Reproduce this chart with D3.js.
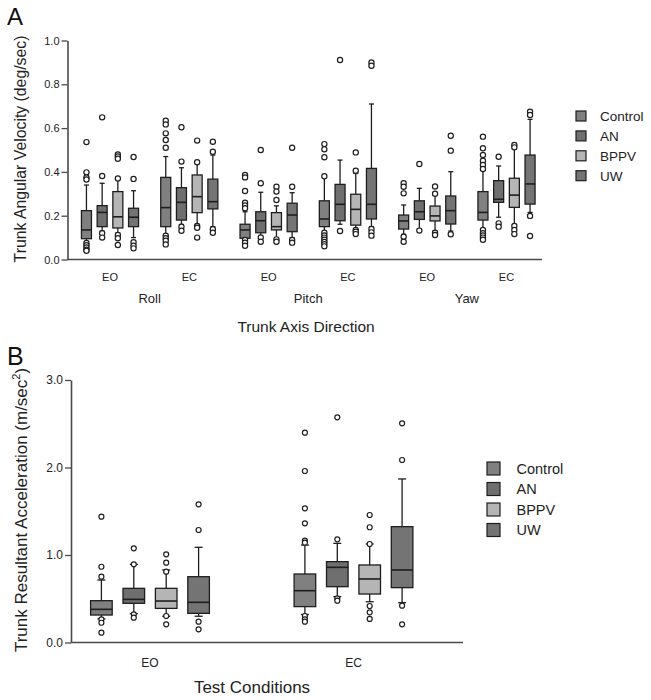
<!DOCTYPE html>
<html>
<head>
<meta charset="utf-8">
<script src="https://cdn.jsdelivr.net/npm/d3@7"></script>
<style>
  html, body { margin: 0; padding: 0; background: #fff; }
  svg { display: block; font-family: "Liberation Sans", Arial, Helvetica, sans-serif; }
</style>
</head>
<body>
<svg id="chart" width="651" height="700"></svg>
<script>
// ---------- DATA ----------
const seriesNames = ["Control", "AN", "BPPV", "UW"];
const seriesColors = ["#808080", "#6f6f6f", "#b5b5b5", "#747474"];

// Panel A
const groupsA = ["Roll EO", "Roll EC", "Pitch EO", "Pitch EC", "Yaw EO", "Yaw EC"];
const conditionLabelsA = ["EO", "EC", "EO", "EC", "EO", "EC"];
const directionsA = ["Roll", "Pitch", "Yaw"];
const ticksA = [0, 0.2, 0.4, 0.6, 0.8, 1.0];

// [whiskerLow, q1, median, q3, whiskerHigh] per group
const controlA = [
  [0.08, 0.095, 0.135, 0.223, 0.34],
  [0.115, 0.15, 0.237, 0.375, 0.47],
  [0.095, 0.097, 0.135, 0.161, 0.218],
  [0.125, 0.15, 0.185, 0.268, 0.378],
  [0.115, 0.139, 0.176, 0.203, 0.249],
  [0.14, 0.18, 0.215, 0.31, 0.409]
];
const anA = [
  [0.13, 0.15, 0.215, 0.246, 0.348],
  [0.16, 0.18, 0.261, 0.328, 0.419],
  [0.11, 0.122, 0.177, 0.218, 0.307],
  [0.161, 0.177, 0.252, 0.343, 0.454],
  [0.14, 0.183, 0.218, 0.268, 0.325],
  [0.193, 0.261, 0.275, 0.36, 0.427]
];
const bppvA = [
  [0.12, 0.144, 0.195, 0.31, 0.37],
  [0.16, 0.214, 0.287, 0.386, 0.447],
  [0.10, 0.135, 0.15, 0.214, 0.245],
  [0.14, 0.157, 0.229, 0.298, 0.393],
  [0.13, 0.176, 0.199, 0.244, 0.305],
  [0.16, 0.238, 0.294, 0.371, 0.503]
];
const uwA = [
  [0.10, 0.15, 0.193, 0.234, 0.314],
  [0.15, 0.231, 0.264, 0.367, 0.477],
  [0.10, 0.127, 0.203, 0.257, 0.305],
  [0.15, 0.185, 0.252, 0.416, 0.71],
  [0.13, 0.162, 0.223, 0.29, 0.401],
  [0.215, 0.253, 0.345, 0.477, 0.64]
];
const controlOutA = [
  [0.536, 0.398, 0.375, 0.365, 0.075, 0.065, 0.055, 0.045, 0.04],
  [0.634, 0.617, 0.576, 0.546, 0.51, 0.109, 0.097, 0.086, 0.069],
  [0.386, 0.375, 0.313, 0.259, 0.247, 0.234, 0.089, 0.077, 0.063],
  [0.527, 0.503, 0.467, 0.38, 0.122, 0.11, 0.1, 0.09, 0.08, 0.07, 0.06],
  [0.348, 0.332, 0.302, 0.104, 0.081],
  [0.561, 0.508, 0.477, 0.451, 0.432, 0.413, 0.135, 0.12, 0.11, 0.1, 0.09]
];
const anOutA = [
  [0.649, 0.381, 0.12, 0.10],
  [0.604, 0.447, 0.15, 0.131],
  [0.5, 0.348, 0.10, 0.081],
  [0.911, 0.13],
  [0.436, 0.132],
  [0.469, 0.165, 0.15]
];
const bppvOutA = [
  [0.48, 0.47, 0.46, 0.37, 0.112, 0.097, 0.066],
  [0.543, 0.444, 0.153, 0.145, 0.10],
  [0.332, 0.31, 0.272, 0.092, 0.081],
  [0.489, 0.405, 0.135, 0.127, 0.116],
  [0.333, 0.30, 0.122, 0.112],
  [0.523, 0.512, 0.153, 0.135, 0.116]
];
const uwOutA = [
  [0.468, 0.368, 0.079, 0.063, 0.051],
  [0.538, 0.492, 0.138, 0.122],
  [0.51, 0.332, 0.089, 0.077],
  [0.90, 0.885, 0.139, 0.124, 0.109],
  [0.565, 0.497, 0.115],
  [0.675, 0.66, 0.199, 0.107]
];

// Panel B
const groupsB = ["EO", "EC"];
const ticksB = [0, 1, 2, 3];
const controlB = [
  [0.27, 0.314, 0.379, 0.478, 0.714],
  [0.32, 0.41, 0.592, 0.783, 1.114]
];
const anB = [
  [0.33, 0.448, 0.493, 0.619, 0.893],
  [0.524, 0.638, 0.859, 0.924, 1.133]
];
const bppvB = [
  [0.30, 0.39, 0.474, 0.619, 0.829],
  [0.466, 0.554, 0.726, 0.886, 1.126]
];
const uwB = [
  [0.30, 0.333, 0.459, 0.752, 1.088],
  [0.455, 0.627, 0.829, 1.324, 1.869]
];
const controlOutB = [
  [1.438, 0.866, 0.752, 0.265, 0.226, 0.112],
  [2.398, 1.96, 1.533, 1.362, 1.164, 1.141, 0.303, 0.265, 0.238]
];
const anOutB = [
  [1.076, 0.893, 0.322, 0.284],
  [2.573, 1.179, 0.505, 0.478]
];
const bppvOutB = [
  [1.008, 0.912, 0.81, 0.303, 0.208],
  [1.457, 1.317, 1.126, 0.417, 0.345, 0.269]
];
const uwOutB = [
  [1.579, 1.286, 0.238, 0.151],
  [2.505, 2.086, 0.421, 0.208]
];

// ---------- DRAWING ----------
const svg = d3.select("#chart");
const ink = "#1e1e1e";
const axisColor = "#4a4a4a";

function panel(cfg) {
  const g = svg.append("g");
  const y = d3.scaleLinear().domain(cfg.yDomain).range([cfg.y0, cfg.y1]);
  const x = d3.scalePoint().domain(cfg.groups).range(cfg.xRange);
  const off = d3.scalePoint().domain(seriesNames).range([-1.5 * cfg.step, 1.5 * cfg.step]);

  // y axis
  const yAxis = d3.axisLeft(y).tickValues(cfg.ticks).tickSize(6).tickSizeOuter(0)
    .tickFormat(d3.format(".1f"));
  const ya = g.append("g").attr("transform", `translate(${cfg.axisX},0)`).call(yAxis);
  ya.select(".domain").attr("stroke", axisColor).attr("stroke-width", 1.6);
  ya.selectAll(".tick line").attr("stroke", axisColor).attr("stroke-width", 1.3);
  ya.selectAll(".tick text").attr("font-size", cfg.tickFont).attr("fill", "#222")
    .attr("font-family", "Liberation Sans, Arial, sans-serif").attr("x", -8);

  // x axis line
  g.append("line").attr("x1", cfg.axisX).attr("x2", cfg.axisEnd)
    .attr("y1", y(0)).attr("y2", y(0)).attr("stroke", axisColor).attr("stroke-width", 1.6);

  cfg.series.forEach((stats, si) => {
    const name = seriesNames[si];
    stats.forEach((s, gi) => {
      const cx = x(cfg.groups[gi]) + off(name);
      const bw = cfg.boxW;
      const [lo, q1, med, q3, hi] = s;
      // whiskers
      g.append("line").attr("x1", cx).attr("x2", cx).attr("y1", y(q3)).attr("y2", y(hi))
        .attr("stroke", ink).attr("stroke-width", 1.3);
      g.append("line").attr("x1", cx).attr("x2", cx).attr("y1", y(q1)).attr("y2", y(lo))
        .attr("stroke", ink).attr("stroke-width", 1.3);
      [lo, hi].forEach(v => {
        g.append("line").attr("x1", cx - cfg.capW / 2).attr("x2", cx + cfg.capW / 2)
          .attr("y1", y(v)).attr("y2", y(v)).attr("stroke", ink).attr("stroke-width", 1.3);
      });
      // box
      g.append("rect").attr("x", cx - bw / 2).attr("y", y(q3))
        .attr("width", bw).attr("height", y(q1) - y(q3))
        .attr("fill", seriesColors[si]).attr("stroke", ink).attr("stroke-width", 1.3);
      g.append("line").attr("x1", cx - bw / 2).attr("x2", cx + bw / 2)
        .attr("y1", y(med)).attr("y2", y(med)).attr("stroke", ink).attr("stroke-width", 1.6);
      // outliers
      cfg.outliers[si][gi].forEach(v => {
        g.append("circle").attr("cx", cx).attr("cy", y(v)).attr("r", cfg.r)
          .attr("fill", "#fff").attr("stroke", ink).attr("stroke-width", 1.2);
      });
    });
  });

  // legend
  seriesNames.forEach((n, i) => {
    const ly = cfg.legY + i * cfg.legStep;
    g.append("rect").attr("x", cfg.legX).attr("y", ly - cfg.legSq / 2)
      .attr("width", cfg.legSq).attr("height", cfg.legSq)
      .attr("fill", seriesColors[i]).attr("stroke", ink).attr("stroke-width", 1.2);
    g.append("text").attr("x", cfg.legTextX).attr("y", ly).attr("dy", "0.36em")
      .attr("font-size", cfg.legFont).attr("fill", "#222").text(n);
  });
  return { g, x, y };
}

// Panel A
const A = panel({
  yDomain: [0, 1], y0: 259.5, y1: 40.5, ticks: ticksA, tickFont: 11,
  groups: groupsA, xRange: [110, 506.5], step: 15.7, boxW: 10, capW: 5, r: 2.6,
  axisX: 67.5, axisEnd: 542,
  series: [controlA, anA, bppvA, uwA], outliers: [controlOutA, anOutA, bppvOutA, uwOutA],
  legX: 576, legTextX: 600, legY: 116, legStep: 19.9, legSq: 10, legFont: 13.5
});
groupsA.forEach((gname, i) => {
  A.g.append("text").attr("x", A.x(gname)).attr("y", 281).attr("text-anchor", "middle")
    .attr("font-size", 11).attr("fill", "#222").text(conditionLabelsA[i]);
});
directionsA.forEach((d, i) => {
  const cx = (A.x(groupsA[2 * i]) + A.x(groupsA[2 * i + 1])) / 2;
  A.g.append("text").attr("x", cx).attr("y", 303).attr("text-anchor", "middle")
    .attr("font-size", 13).attr("fill", "#222").text(d);
});
A.g.append("text").attr("x", 306).attr("y", 332).attr("text-anchor", "middle")
  .attr("font-size", 15.5).attr("fill", "#222").text("Trunk Axis Direction");
A.g.append("text").attr("transform", "translate(26,149) rotate(-90)").attr("text-anchor", "middle")
  .attr("font-size", 15.8).attr("fill", "#222").text("Trunk Angular Velocity (deg/sec)");
svg.append("text").attr("x", 7).attr("y", 25).attr("font-size", 24).attr("fill", "#111").text("A");

// Panel B
const B = panel({
  yDomain: [0, 3], y0: 642.5, y1: 380, ticks: ticksB, tickFont: 12,
  groups: groupsB, xRange: [150, 353.5], step: 32.4, boxW: 21.6, capW: 8, r: 2.5,
  axisX: 71, axisEnd: 463,
  series: [controlB, anB, bppvB, uwB], outliers: [controlOutB, anOutB, bppvOutB, uwOutB],
  legX: 487, legTextX: 516.5, legY: 468.5, legStep: 20.5, legSq: 13, legFont: 14.5
});
groupsB.forEach(gname => {
  B.g.append("text").attr("x", B.x(gname)).attr("y", 667).attr("text-anchor", "middle")
    .attr("font-size", 12).attr("fill", "#222").text(gname);
});
B.g.append("text").attr("x", 252).attr("y", 693).attr("text-anchor", "middle")
  .attr("font-size", 17).attr("fill", "#222").text("Test Conditions");
const yl = B.g.append("text").attr("transform", "translate(27,510) rotate(-90)").attr("text-anchor", "middle")
  .attr("font-size", 17).attr("fill", "#222");
yl.append("tspan").text("Trunk Resultant Acceleration (m/sec");
yl.append("tspan").attr("font-size", 11).attr("dy", -7).text("2");
yl.append("tspan").attr("dy", 7).text(")");
svg.append("text").attr("x", 7).attr("y", 365).attr("font-size", 25).attr("fill", "#111").text("B");
</script>
</body>
</html>
